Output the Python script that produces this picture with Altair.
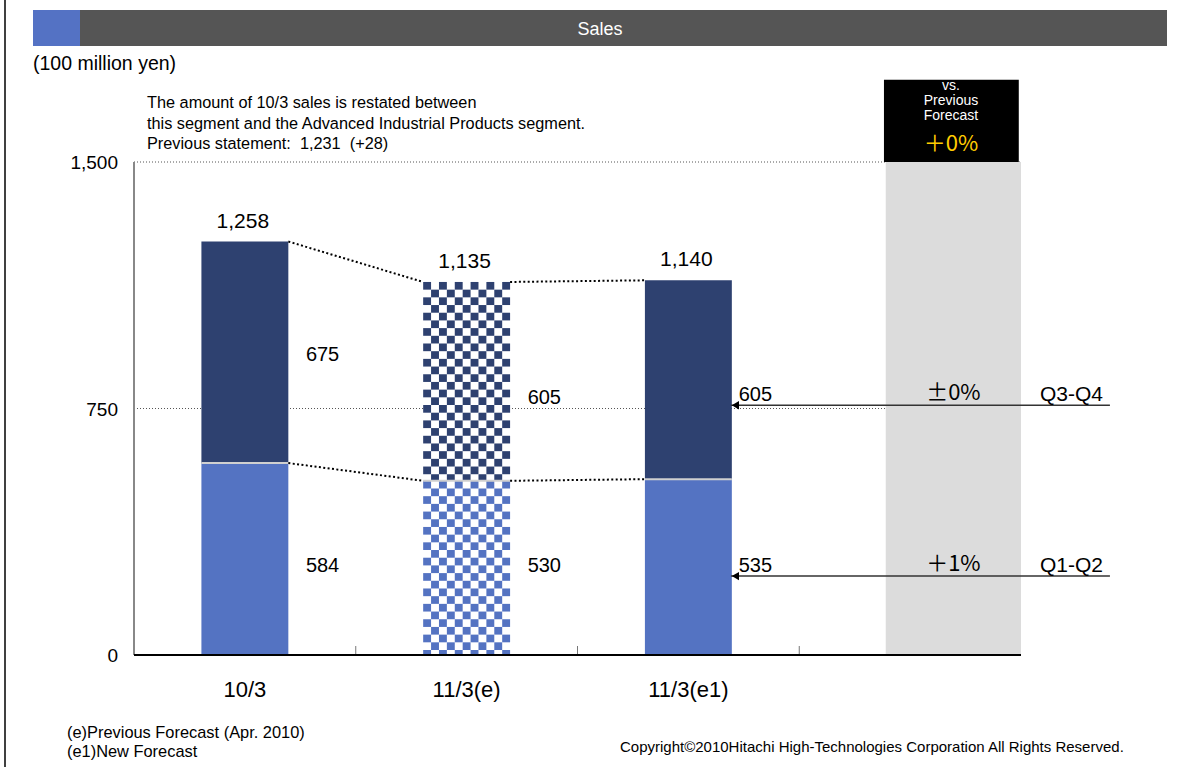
import altair as alt
import pandas as pd

# ---------------- data ----------------
categories = ["10/3", "11/3(e)", "11/3(e1)"]
q1_q2 = [584, 530, 535]
q3_q4 = [675, 605, 605]
totals = [1258, 1135, 1140]
checkered = ["11/3(e)"]
y_ticks = [0, 750, 1500]
halves = ["Q3-Q4", "Q1-Q2"]
new_forecast = [605, 535]
vs_previous = ["±0%", "＋1%"]
vs_previous_total = "＋0%"
vs_header = ["vs.", "Previous", "Forecast"]
note_lines = [
    "The amount of 10/3 sales is restated between",
    "this segment and the Advanced Industrial Products segment.",
    "Previous statement:\u00a0 1,231\u00a0 (+28)",
]
footnotes = ["(e)Previous Forecast (Apr. 2010)", "(e1)New Forecast"]
copyright_text = "Copyright©2010Hitachi High-Technologies Corporation All Rights Reserved."
title_text = "Sales"
unit_text = "(100 million yen)"

# ---------------- layout / style ----------------
W, H = 887, 493
PAD = dict(left=134, top=162, right=171, bottom=112)
HW = 0.196                      # half bar width, x units
X_MAX = 4
SANS = "Liberation Sans, Arial, sans-serif"
CJK = "Noto Sans CJK JP, sans-serif"
NAVY = "#2E4170"
BLUE = "#5473C2"
GRAY_COL = "#DCDCDC"
YELLOW = "#FFCC00"
XS = alt.Scale(domain=[0, X_MAX], nice=False, zero=False)
YS = alt.Scale(domain=[0, 1500], nice=False, zero=False)
ARROW_Y = [760, 240]
ARROW_RIGHT = 4.401
ARROW_TIP = 2.692
LABEL_Y_Q34 = [913, 782]
LABEL_Y_Q12 = [271, 271]
CELL_COLS = 11
CELL_H = 23.4


def X(f):
    return alt.X(f, scale=XS, axis=None)


def Y(f):
    return alt.Y(f, scale=YS, axis=None)


bars = pd.DataFrame({"cat": categories, "q12": q1_q2, "q34": q3_q4, "total": totals})
bars["idx"] = range(len(categories))
bars["center"] = bars["idx"] + 0.5
bars["xl"] = bars["center"] - HW
bars["xr"] = bars["center"] + HW
bars["zero"] = 0
bars["checkered"] = bars["cat"].isin(checkered)

layers = []

# ---- y grid (dotted) ----
grid = pd.DataFrame({"v": y_ticks})
grid["x0"] = 0
grid["x1"] = X_MAX
layers.append(alt.Chart(grid).mark_rule(color="#555555", strokeWidth=1, strokeDash=[1, 2]).encode(
    x=X("x0:Q"), x2="x1", y=Y("v:Q")))

# ---- gray comparison column and black header box ----
col = pd.DataFrame({"x": [3.39], "x2": [4.0], "y": [0], "y2": [1500]})
layers.append(alt.Chart(col).mark_rect(color=GRAY_COL).encode(
    x=X("x:Q"), x2="x2", y=Y("y:Q"), y2="y2"))
box = pd.DataFrame({"x": [3.382], "x2": [3.99], "y": [1500], "y2": [1750]})
layers.append(alt.Chart(box).mark_rect(color="black").encode(
    x=X("x:Q"), x2="x2", y=Y("y:Q"), y2="y2"))

# ---- stacked bars ----
layers.append(alt.Chart(bars).mark_rect().encode(
    x=X("xl:Q"), x2="xr", y=Y("q12:Q"), y2="zero",
    color=alt.condition("datum.checkered", alt.value("white"), alt.value(BLUE))))
layers.append(alt.Chart(bars).mark_rect().encode(
    x=X("xl:Q"), x2="xr", y=Y("total:Q"), y2="q12",
    color=alt.condition("datum.checkered", alt.value("white"), alt.value(NAVY))))

# ---- checkerboard fill for the previous-forecast bar ----
cells = []
for i, cat in enumerate(categories):
    if cat not in checkered:
        continue
    xl = i + 0.5 - HW
    cw = 2 * HW / CELL_COLS
    for seg, lo, hi in [("Q1-Q2", 0, q1_q2[i]), ("Q3-Q4", q1_q2[i], totals[i])]:
        top, r = hi, 0
        while top > lo + 0.5:
            bot = max(lo, top - CELL_H)
            for c in range(CELL_COLS):
                if (r + c) % 2 == 0:
                    cells.append(dict(seg=seg, x=xl + c * cw, x2=xl + (c + 1) * cw, y=bot, y2=top))
            top -= CELL_H
            r += 1
cells = pd.DataFrame(cells)
layers.append(alt.Chart(cells).mark_rect().encode(
    x=X("x:Q"), x2="x2", y=Y("y:Q"), y2="y2",
    color=alt.Color("seg:N", scale=alt.Scale(domain=["Q1-Q2", "Q3-Q4"], range=[BLUE, NAVY]), legend=None)))

# ---- split line between halves ----
layers.append(alt.Chart(bars).mark_rule(color="#D0D0D0", strokeWidth=2).encode(
    x=X("xl:Q"), x2="xr", y=Y("q12:Q")))

# ---- axes drawn by hand ----
yline = pd.DataFrame({"x": [0], "y": [0], "y2": [1500]})
layers.append(alt.Chart(yline).mark_rule(color="#888888", strokeWidth=2).encode(
    x=X("x:Q"), y=Y("y:Q"), y2="y2"))
layers.append(alt.Chart(grid).mark_text(align="right", baseline="middle", dx=-16, dy=1, fontSize=19,
                                        font=SANS, color="black").encode(
    x=X("x0:Q"), y=Y("v:Q"), text=alt.Text("v:Q", format=",d")))
bounds = pd.DataFrame({"b": [1, 2, 3]})
layers.append(alt.Chart(bounds).mark_rule(color="#777777", strokeWidth=1).encode(
    x=X("b:Q"), y=alt.value(H), y2=alt.value(H - 9)))
xline = pd.DataFrame({"x": [0], "x2": [X_MAX], "y": [0]})
layers.append(alt.Chart(xline).mark_rule(color="black", strokeWidth=2).encode(
    x=X("x:Q"), x2="x2", y=Y("y:Q")))
layers.append(alt.Chart(bars).mark_text(align="center", baseline="middle", dy=35, fontSize=22,
                                        font=SANS, color="black").encode(
    x=X("center:Q"), y=Y("zero:Q"), text="cat:N"))

# ---- dotted connectors between bars ----
conn = []
for series in (totals, q1_q2):
    for i in range(len(categories) - 1):
        conn.append(dict(x=i + 0.5 + HW, x2=i + 1.5 - HW, y=series[i], y2=series[i + 1]))
conn = pd.DataFrame(conn)
layers.append(alt.Chart(conn).mark_rule(color="black", strokeWidth=2, strokeDash=[2, 2.4]).encode(
    x=X("x:Q"), x2="x2", y=Y("y:Q"), y2="y2"))

# ---- arrows for the new forecast halves ----
arr = pd.DataFrame({"half": halves, "value": new_forecast, "vs": vs_previous, "y": ARROW_Y})
arr["xr"] = ARROW_RIGHT
arr["xt"] = ARROW_TIP
arr["xh"] = ARROW_TIP + 0.02
arr["xv"] = ARROW_TIP + 0.035
arr["xq"] = 4.37
arr["xc"] = 3.695
layers.append(alt.Chart(arr).mark_rule(color="#333333", strokeWidth=1.5).encode(
    x=X("xt:Q"), x2="xr", y=Y("y:Q")))
layers.append(alt.Chart(arr).mark_point(shape="triangle-left", filled=True, color="black", size=70, opacity=1).encode(
    x=X("xh:Q"), y=Y("y:Q")))
layers.append(alt.Chart(arr).mark_text(align="left", baseline="alphabetic", dy=-4, fontSize=20, font=SANS, color="black").encode(
    x=X("xv:Q"), y=Y("y:Q"), text="value:Q"))
layers.append(alt.Chart(arr).mark_text(align="right", baseline="alphabetic", dy=-4, fontSize=21, font=SANS, color="black").encode(
    x=X("xq:Q"), y=Y("y:Q"), text="half:N"))
layers.append(alt.Chart(arr).mark_text(align="center", baseline="alphabetic", dy=-5, fontSize=22, font=CJK, color="black").encode(
    x=X("xc:Q"), y=Y("y:Q"), text="vs:N"))

# ---- labels on bars (first two bars) ----
seg_lab = pd.DataFrame({
    "center": list(bars["center"][:2]) * 2,
    "y": LABEL_Y_Q34 + LABEL_Y_Q12,
    "v": q3_q4[:2] + q1_q2[:2],
})
layers.append(alt.Chart(seg_lab).mark_text(align="left", baseline="middle", dx=61, fontSize=20, font=SANS, color="black").encode(
    x=X("center:Q"), y=Y("y:Q"), text="v:Q"))

# ---- totals ----
layers.append(alt.Chart(bars).mark_text(align="center", baseline="middle", dy=-20, dx=-2, fontSize=21, font=SANS, color="black").encode(
    x=X("center:Q"), y=Y("total:Q"), text=alt.Text("total:Q", format=",d")))


def ptext(text, x, y, size, color="black", align="left", font=SANS, baseline="middle"):
    return alt.Chart(pd.DataFrame({"t": [text]})).mark_text(
        align=align, baseline=baseline, fontSize=size, font=font, color=color
    ).encode(text="t:N", x=alt.value(x), y=alt.value(y))


# ---- header band ----
layers.append(alt.Chart(pd.DataFrame({"a": [0]})).mark_rect(color="#555555").encode(
    x=alt.value(-54), x2=alt.value(1033), y=alt.value(-152), y2=alt.value(-116)))
layers.append(alt.Chart(pd.DataFrame({"a": [0]})).mark_rect(color="#5472C4").encode(
    x=alt.value(-101), x2=alt.value(-54), y=alt.value(-152), y2=alt.value(-116)))
layers.append(ptext(title_text, 466, -132, 18, color="white", align="center"))
layers.append(alt.Chart(pd.DataFrame({"a": [0]})).mark_rule(color="black", strokeWidth=1.5).encode(
    x=alt.value(-129), y=alt.value(-162), y2=alt.value(605)))

layers.append(ptext(unit_text, -101, -98, 19.5))
for line, yy in zip(note_lines, [-59, -38, -18]):
    layers.append(ptext(line, 13, yy, 16.3))
for line, yy in zip(vs_header, [-76, -61, -46]):
    layers.append(ptext(line, 817, yy, 14, color="white", align="center"))
layers.append(ptext(vs_previous_total, 817, -18, 22, color=YELLOW, align="center", font=CJK))
for line, yy in zip(footnotes, [571, 590]):
    layers.append(ptext(line, -67, yy, 16.4))
layers.append(ptext(copyright_text, 486, 585, 15))

chart = alt.layer(*layers).properties(
    width=W, height=H, padding=PAD, autosize=alt.AutoSizeParams(type="none")
).configure_view(stroke=None)

chart.save("out.html", embed_options={"renderer": "svg", "actions": False})
